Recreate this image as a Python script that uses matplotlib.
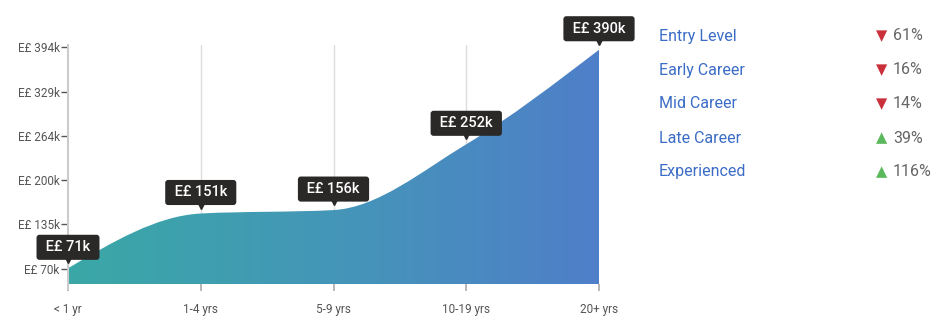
import numpy as np
import matplotlib
matplotlib.use("Agg")
import matplotlib.pyplot as plt
from matplotlib.path import Path
from matplotlib.patches import PathPatch
from matplotlib.colors import LinearSegmentedColormap
from matplotlib.transforms import ScaledTranslation

plt.rcParams['font.family'] = ['Roboto', 'DejaVu Sans']

# data
categories = ["< 1 yr", "1-4 yrs", "5-9 yrs", "10-19 yrs", "20+ yrs"]
salaries = [71, 151, 156, 252, 390]          # thousands E£
point_labels = ["E£ 71k", "E£ 151k", "E£ 156k", "E£ 252k", "E£ 390k"]
ytick_vals = [70, 135, 200, 264, 329, 394]

stages = ["Entry Level", "Early Career", "Mid Career", "Late Career", "Experienced"]
stage_change = [-61, -16, -14, 39, 116]


def monotone_path(x, y, base):
    # d3 curveMonotoneX style bezier path, closed down to base
    x = np.asarray(x, float)
    y = np.asarray(y, float)
    h = np.diff(x)
    s = np.diff(y) / h
    n = len(x)
    m = np.zeros(n)
    for i in range(1, n - 1):
        p = (s[i - 1] * h[i] + s[i] * h[i - 1]) / (h[i - 1] + h[i])
        m[i] = (np.sign(s[i - 1]) + np.sign(s[i])) * min(abs(s[i - 1]), abs(s[i]), 0.5 * abs(p))
    m[0] = (3 * s[0] - m[1]) / 2
    m[-1] = (3 * s[-1] - m[-2]) / 2
    verts = [(x[0], base), (x[0], y[0])]
    codes = [Path.MOVETO, Path.LINETO]
    for i in range(n - 1):
        d = h[i] / 3
        verts += [(x[i] + d, y[i] + m[i] * d), (x[i + 1] - d, y[i + 1] - m[i + 1] * d), (x[i + 1], y[i + 1])]
        codes += [Path.CURVE4] * 3
    verts += [(x[-1], base), (x[0], base)]
    codes += [Path.LINETO, Path.CLOSEPOLY]
    return Path(verts, codes)


W, H = 943, 321
fig = plt.figure(figsize=(W / 100, H / 100), dpi=100)
left, right, top, bottom = 68, 599, 45, 284
ax = fig.add_axes([left / W, (H - bottom) / H, (right - left) / W, (bottom - top) / H])

xs = np.arange(len(categories))
kpp = (394 - 70) / (269 - 47)
ylo = 70 - (bottom - 269) * kpp
yhi = 394 + (47 - top) * kpp
ax.set_xlim(0, len(categories) - 1)
ax.set_ylim(ylo, yhi)

# gridlines
for xv in xs[1:]:
    ax.axvline(xv, color="#dddddd", lw=1, zorder=0)

# gradient area
path = monotone_path(xs, salaries, ylo)
patch = PathPatch(path, facecolor="none", edgecolor="none")
ax.add_patch(patch)
cmap = LinearSegmentedColormap.from_list("g", ["#3aa8a6", "#4496b8", "#4f7fc9"])
grad = np.linspace(0, 1, 256).reshape(1, -1)
im = ax.imshow(grad, cmap=cmap, aspect="auto", extent=[0, len(categories) - 1, ylo, yhi],
               zorder=1, interpolation="bicubic")
im.set_clip_path(patch)

for sp in ["top", "right", "bottom"]:
    ax.spines[sp].set_visible(False)
ax.spines["left"].set_color("#cccccc")
ax.spines["left"].set_linewidth(1.5)
ax.spines["left"].set_bounds(ylo - 5 * kpp, yhi)
ax.spines["left"].set_zorder(3)

ax.set_yticks(ytick_vals)
ax.set_yticklabels([f"E£ {v}k" for v in ytick_vals])
ax.set_xticks(xs)
ax.set_xticklabels(categories)
ax.tick_params(axis="y", length=5, width=1, color="#555555", labelcolor="#555555",
               labelsize=8.5, pad=1)
ax.tick_params(axis="x", length=5, width=1.2, color="#aaaaaa", labelcolor="#555555",
               labelsize=8.5, pad=9)

# tooltips
arrow_off = ScaledTranslation(0, 9 / 100, fig.dpi_scale_trans)
for xv, yv, lab in zip(xs, salaries, point_labels):
    ax.annotate(f" {lab} ", (xv, yv), xytext=(0, 21), textcoords="offset pixels",
                ha="center", va="center", color="white", fontsize=10.5, fontweight="medium",
                bbox=dict(boxstyle="round,pad=0.38,rounding_size=0.2", fc="#2b2828", ec="none"),
                zorder=6, annotation_clip=False)
    ax.plot([xv], [yv], marker="v", ms=6, color="#2b2828", zorder=6, clip_on=False,
            transform=ax.transData + arrow_off)

# right side legend of career stages
for i, (name, pct) in enumerate(zip(stages, stage_change)):
    ypix = 36 + 34 * i
    yf = 1 - ypix / H
    fig.text(659 / W, yf, name, color="#3b6cc6", fontsize=11.5, va="center", ha="left")
    mk = "▼" if pct < 0 else "▲"
    col = "#c9303c" if pct < 0 else "#5cb85c"
    fig.text(882 / W, yf, mk, color=col, fontsize=10.5, va="center", ha="center",
             family=["DejaVu Sans"])
    fig.text(893 / W, yf, f"{abs(pct)}%", color="#666666", fontsize=11.5, va="center", ha="left")

fig.savefig("out.png", dpi=100)
